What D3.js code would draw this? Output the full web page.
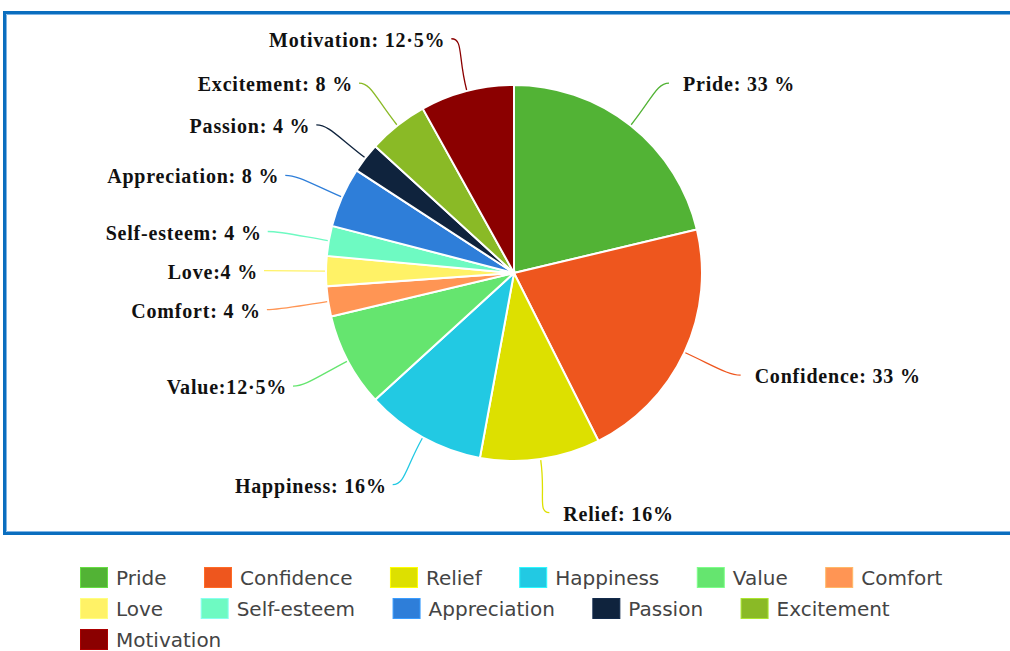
<!DOCTYPE html>
<html>
<head>
<meta charset="utf-8">
<script src="https://cdn.jsdelivr.net/npm/d3@7"></script>
<style>
    body { margin: 0; background: #fff; }
    svg { display: block; }
</style>
</head>
<body>
<svg id="chart" width="1010" height="651"></svg>
<script>
const categories = ["Pride", "Confidence", "Relief", "Happiness", "Value", "Comfort",
    "Love", "Self-esteem", "Appreciation", "Passion", "Excitement", "Motivation"];
const values = [33, 33, 16, 16, 12.5, 4, 4, 4, 8, 4, 8, 12.5];
const labelTexts = ["Pride: 33 %", "Confidence: 33 %", "Relief: 16%", "Happiness: 16%",
    "Value:12·5%", "Comfort: 4 %", "Love:4 %", "Self-esteem: 4 %", "Appreciation: 8 %",
    "Passion: 4 %", "Excitement: 8 %", "Motivation: 12·5%"];
const colors = ["#52b335", "#ee561e", "#dde000", "#22c9e3", "#65e56f", "#ff9554",
    "#fff266", "#6efac2", "#2e7ed9", "#0f233d", "#8aba26", "#8b0000"];

const svg = d3.select("#chart");
const cx = 514, cy = 273, radius = 188;
const labelRx = 250, labelRy = 242;

// frame (open on the right side)
svg.append("path")
    .attr("d", "M1015,12.5H4.5V533.5H1015")
    .attr("fill", "none")
    .attr("stroke", "#0a6ebf")
    .attr("stroke-width", 3);
svg.append("path")
    .attr("d", "M1015,14.5H6.5V531.5H1015")
    .attr("fill", "none")
    .attr("stroke", "#7fb4e4")
    .attr("stroke-width", 1);

const data = categories.map((c, i) => ({ name: c, value: values[i], label: labelTexts[i], color: colors[i] }));

const pie = d3.pie().sort(null).value(d => d.value);
const arcs = pie(data);
const arc = d3.arc().innerRadius(0).outerRadius(radius);

const g = svg.append("g").attr("transform", `translate(${cx},${cy})`);

g.selectAll("path.slice")
    .data(arcs)
    .enter()
    .append("path")
    .attr("class", "slice")
    .attr("d", arc)
    .attr("fill", d => d.data.color)
    .attr("stroke", "#fff")
    .attr("stroke-width", 2);

function polar(r, a) {
    return [r * Math.sin(a), -r * Math.cos(a)];
}

arcs.forEach(d => {
    const mid = (d.startAngle + d.endAngle) / 2;
    const side = Math.sin(mid) >= 0 ? 1 : -1;
    const p0 = polar(radius + 1, mid);
    const p1 = polar(radius + 36, mid);
    const end = [labelRx * Math.sin(mid), -labelRy * Math.cos(mid)];
    const p2 = [end[0] - side * 12, end[1]];

    g.append("path")
        .attr("d", `M${p0[0]},${p0[1]}C${p1[0]},${p1[1]} ${p2[0]},${p2[1]} ${end[0]},${end[1]}`)
        .attr("fill", "none")
        .attr("stroke", d.data.color)
        .attr("stroke-width", 1.3);

    g.append("text")
        .attr("x", end[0] + (side > 0 ? 14 : -6))
        .attr("y", end[1] + 1)
        .attr("dominant-baseline", "central")
        .attr("text-anchor", side > 0 ? "start" : "end")
        .attr("font-family", "'Liberation Serif', 'Times New Roman', serif")
        .attr("font-weight", "bold")
        .attr("font-size", 20)
        .attr("letter-spacing", 0.8)
        .attr("fill", "#111")
        .text(d.data.label);
});

// legend
const legend = svg.append("g");
const legendLeft = 80, legendMax = 1000, rowTop = 567, rowStep = 31;
let lx = legendLeft, row = 0;
data.forEach(d => {
    const item = legend.append("g");
    const t = item.append("text")
        .attr("font-family", "'DejaVu Sans', Verdana, sans-serif")
        .attr("font-size", 20)
        .attr("fill", "#444")
        .text(d.name);
    const w = t.node().getComputedTextLength();
    if (lx + 36 + w > legendMax) {
        row += 1;
        lx = legendLeft;
    }
    const y = rowTop + row * rowStep;
    item.insert("rect", "text")
        .attr("x", lx + 0.5)
        .attr("y", y + 0.5)
        .attr("width", 27)
        .attr("height", 20)
        .attr("fill", d.color)
        .attr("stroke", d3.color(d.color).brighter(0.6))
        .attr("stroke-width", 1);
    t.attr("x", lx + 36).attr("y", y + 18);
    lx += 36 + w + 37.5;
});
</script>
</body>
</html>
